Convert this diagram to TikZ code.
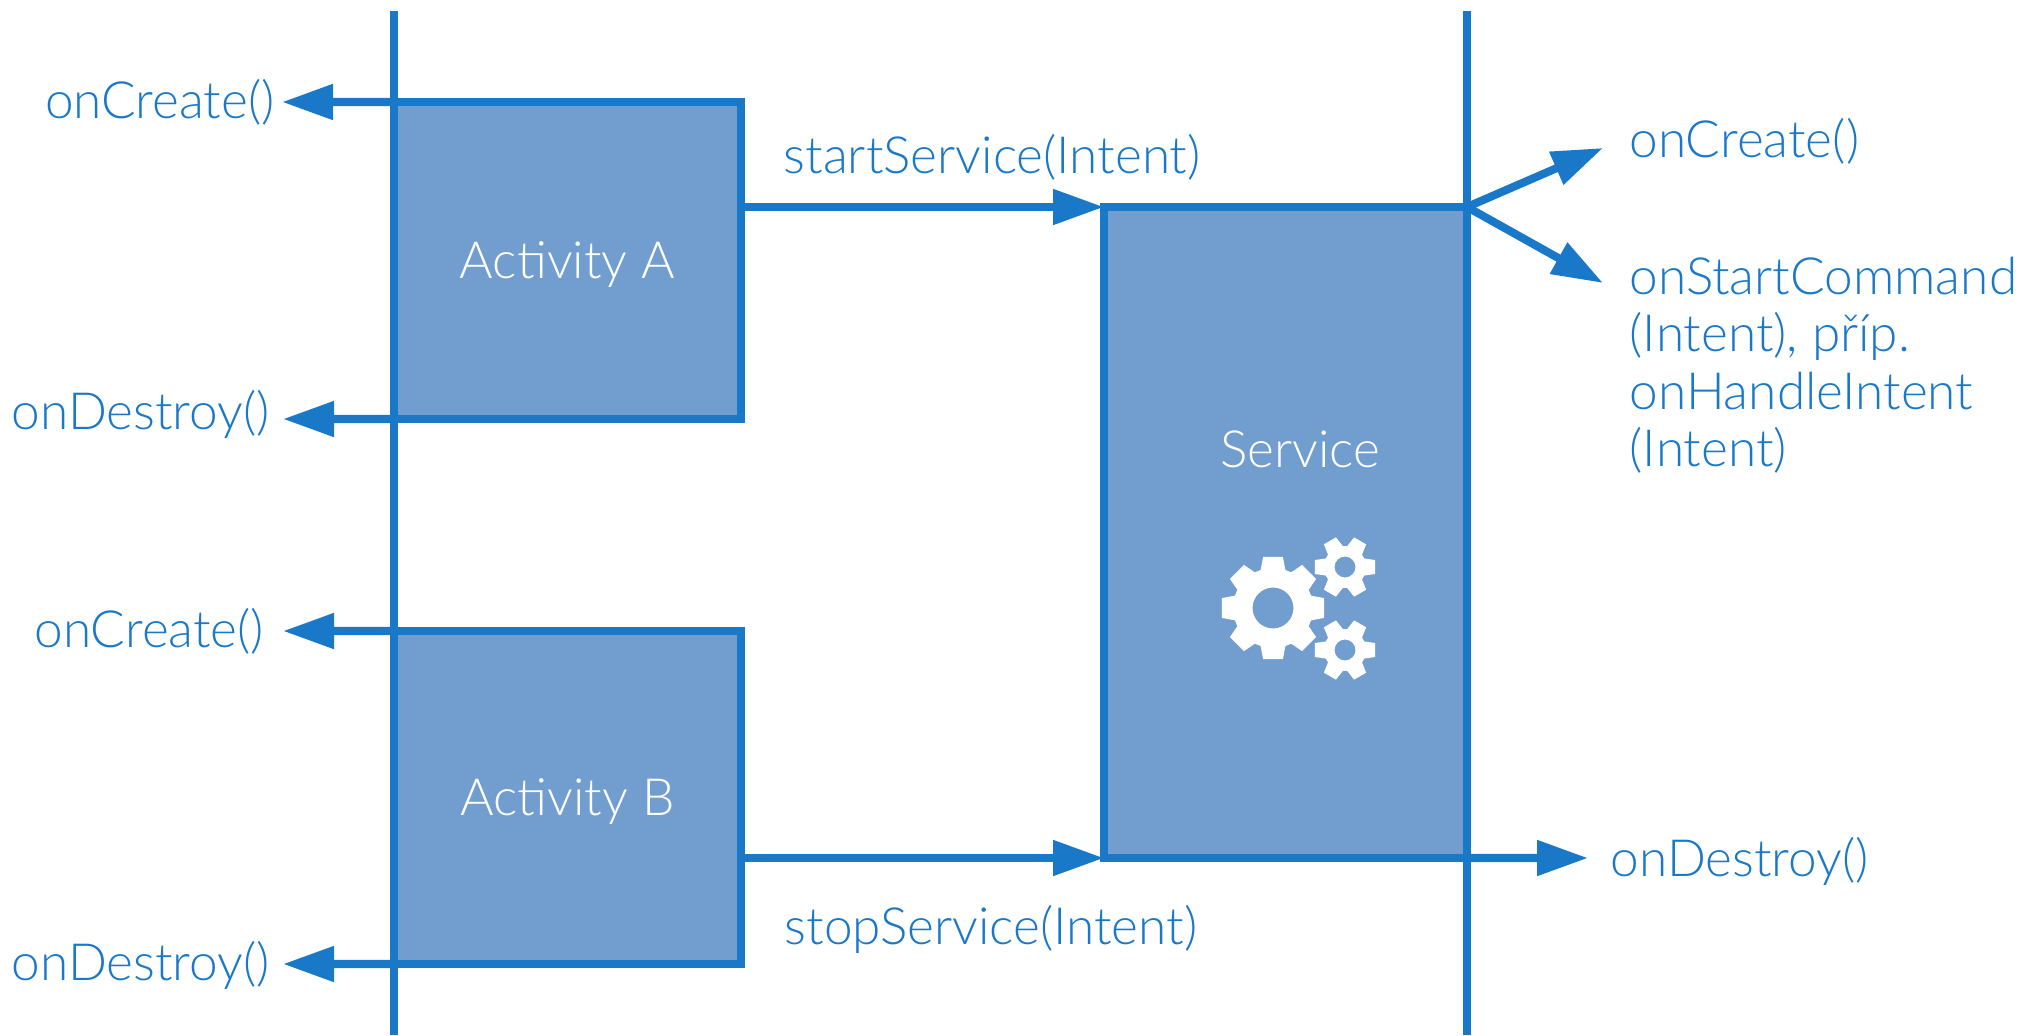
\documentclass[tikz,border=0pt]{standalone}
\usepackage{fontspec}
\setmainfont{Lato Light}
\usetikzlibrary{arrows.meta}
\definecolor{lineblue}{RGB}{26,120,200}
\definecolor{boxblue}{RGB}{114,158,207}
% one gear: x, y, outer radius, root radius, hole radius, teeth, tip half angle, base half angle
\newcommand{\gearwheel}[8]{
\fill[white,even odd rule,shift={(#1,#2)}] (-#7:#3)
  \foreach \a in {1,...,#6} {
    -- ({(\a-1)*360/#6+#7}:#3) -- ({(\a-1)*360/#6+#8}:#4)
    -- ({\a*360/#6-#8}:#4) -- ({\a*360/#6-#7}:#3)
  } -- cycle (0,0) circle (#5);
}
\begin{document}
\begin{tikzpicture}[
  every node/.style={font=\fontsize{14.6}{16.4}\selectfont},
  lane/.style={line width=2.3pt,draw=lineblue},
  block/.style={draw=lineblue,fill=boxblue,line width=2.3pt,outer sep=0pt,inner sep=0pt,text=white,text depth=0pt},
  call/.style={text=lineblue,inner sep=0pt,anchor=base west},
  flow/.style={draw=lineblue,line width=2.3pt,-{Triangle[length=0.51cm,width=0.34cm]}}]
\useasboundingbox (0,0) rectangle (20.39,10.35);

\draw (5.675,7.745) node (ActA) [block,minimum width=3.47cm,minimum height=3.17cm] {Activity A};
\draw (5.675,2.375) node (ActB) [block,minimum width=3.47cm,minimum height=3.33cm] {Activity B};
\draw (12.855,5.025) node (Serv) [block,minimum width=3.63cm,minimum height=6.51cm] {};
\draw (13.0,5.86) node (ServName) [text=white,inner sep=0pt] {Service};

\gearwheel{12.73}{4.27}{0.52}{0.40}{0.205}{8}{11}{18}
\gearwheel{13.45}{4.68}{0.31}{0.21}{0.105}{6}{13}{24}
\gearwheel{13.45}{3.85}{0.31}{0.21}{0.105}{6}{13}{24}

\coordinate (LaneAtop) at (3.94,10.24);
\coordinate (LaneAbot) at (3.94,0);
\coordinate (LaneBtop) at (14.67,10.24);
\coordinate (LaneBbot) at (14.67,0);
\draw[lane] (LaneAtop) -- (LaneAbot);
\draw[lane] (LaneBtop) -- (LaneBbot);

\draw (0.445,9.17) node (CreateA) [call] {onCreate()};
\draw (0.11,6.06) node (DestroyA) [call] {onDestroy()};
\draw (0.34,3.875) node (CreateB) [call] {onCreate()};
\draw (0.11,0.55) node (DestroyB) [call] {onDestroy()};
\draw (7.83,8.62) node (Start) [call] {startService(Intent)};
\draw (7.84,0.91) node (Stop) [call] {stopService(Intent)};
\draw (16.29,8.78) node (CreateS) [call] {onCreate()};
\draw (16.29,7.79) node (Command) [call,anchor=north west,align=left]
  {onStartCommand\\(Intent), příp.\\onHandleIntent\\(Intent)};
\draw (16.10,1.585) node (DestroyS) [call] {onDestroy()};

\coordinate (TipCreateA) at (2.82,9.33);
\coordinate (TipDestroyA) at (2.83,6.16);
\coordinate (TipCreateB) at (2.83,4.04);
\coordinate (TipDestroyB) at (2.83,0.71);
\coordinate (TipCreateS) at (16.03,8.87);
\coordinate (TipCommand) at (16.03,7.52);
\coordinate (TipDestroyS) at (15.88,1.77);

\draw[flow] (ActA.north west) -- (TipCreateA);
\draw[flow] (ActA.south west) -- (TipDestroyA);
\draw[flow] (ActB.north west) -- (TipCreateB);
\draw[flow] (ActB.south west) -- (TipDestroyB);

\draw[flow] (ActA.east |- Serv.north west) -- (Serv.north west);
\draw[flow] (ActB.east |- Serv.south west) -- (Serv.south west);

\draw[flow] (Serv.north east) -- (TipCreateS);
\draw[flow] (Serv.north east) -- (TipCommand);
\draw[flow] (Serv.south east) -- (TipDestroyS);

\end{tikzpicture}
\end{document}
